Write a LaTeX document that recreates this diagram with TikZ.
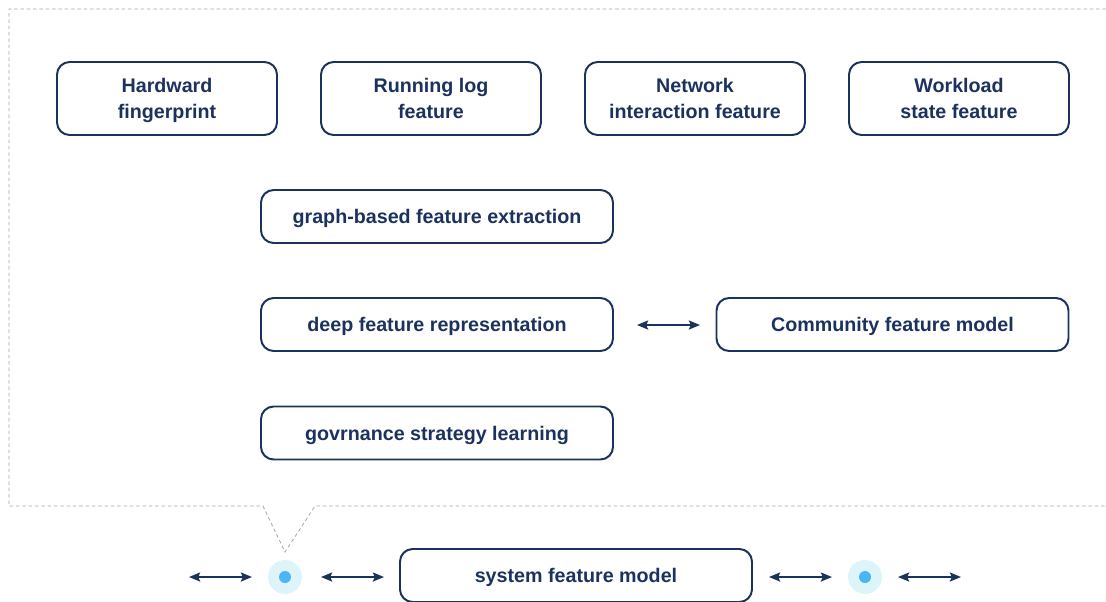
\documentclass[tikz,border=0pt]{standalone}
\usepackage{fontspec}
\setmainfont{Liberation Sans}
\usepackage{tikz}
\usetikzlibrary{positioning,arrows,arrows.meta,calc}
\definecolor{navy}    {HTML}{1C325E}
\definecolor{dashgrey}{HTML}{A8A8A8}
\definecolor{halo}    {HTML}{DDF4FB}
\definecolor{dotblue} {HTML}{4BB6F3}
\tikzset{
  >={Stealth[length=8pt,width=6.5pt,inset=1.5pt]},
  every node/.style={font=\fontsize{14}{19}\selectfont\bfseries},
  % --- nodes
  feat/.style  = {rounded corners=9pt, draw=navy, fill=white, align=center,
                  line width=1.4pt, text=navy, inner sep=0pt, text depth=0pt},
  small/.style = {feat, minimum width=220*0.025cm, minimum height=73*0.025cm},
  wide/.style  = {feat, minimum width=352*0.025cm, minimum height=53*0.025cm},
  % --- edges
  e/.style     = {<->, line width=1.3pt, draw=navy},
  callout/.style={dash pattern=on 2.5pt off 2pt, draw=dashgrey, line width=0.6pt},
}
\begin{document}
\begin{tikzpicture}[x=0.025cm,y=-0.025cm]
  \useasboundingbox (0,0) rectangle (1106,601);
  % callout frame
  \coordinate (tl) at (9,9);
  \coordinate (tip) at (285,552);
  \draw[callout] (1106,9) -- (tl) -- (9,506) -- (263,506) -- (tip) -- (315,506) -- (1106,506);
  % top row
  \node[small] (hw)  at (167,98.5) {Hardward\\fingerprint};
  \node[small] (log) at (431,98.5) {Running log\\feature};
  \node[small] (net) at (695,98.5) {Network\\interaction feature};
  \node[small] (wl)  at (959,98.5) {Workload\\state feature};
  % middle column
  \node[wide] (graph) at (437,216.5) {graph-based feature extraction};
  \node[wide] (deep)  at (437,324.5) {deep feature representation};
  \node[wide] (comm)  at (892.5,324.5) {Community feature model};
  \node[wide] (gov)   at (437,433) {govrnance strategy learning};
  % bottom row
  \node[wide] (sys) at (576,575.5) {system feature model};
  \foreach \n/\x in {dl/285,dr/865}{
    \fill[halo] (\x,577) circle (17);
    \fill[dotblue] (\x,577) circle (6);
    \coordinate (\n) at (\x,577);
  }
  \coordinate (a1) at (189,577); \coordinate (a2) at (252,577);
  \coordinate (b1) at (321,577); \coordinate (b2) at (384,577);
  \coordinate (c1) at (769,577); \coordinate (c2) at (832,577);
  \coordinate (d1) at (898,577); \coordinate (d2) at (961,577);
  \coordinate (m1) at (637,325); \coordinate (m2) at (700,325);
  \draw[e] (m1)--(m2);
  \draw[e] (a1)--(a2); \draw[e] (b1)--(b2);
  \draw[e] (c1)--(c2); \draw[e] (d1)--(d2);
\end{tikzpicture}
\end{document}
